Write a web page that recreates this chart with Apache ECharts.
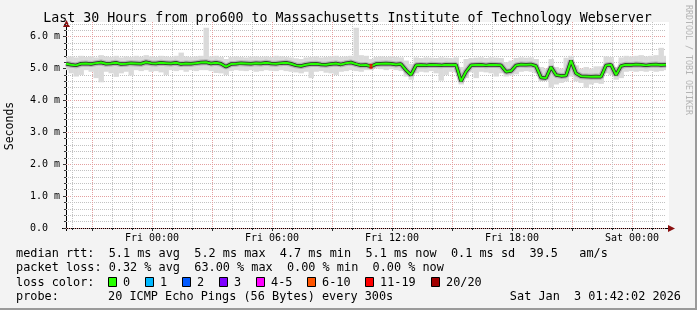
<!DOCTYPE html>
<html><head><meta charset="utf-8">
<script src="https://cdn.jsdelivr.net/npm/echarts@6/dist/echarts.min.js"></script>
<style>html,body{margin:0;padding:0;background:#f3f3f3}#c{width:697px;height:310px}</style>
</head><body><div id="c"></div><script>
// ---- data (15-minute samples, hours relative to Fri 00:00) ----
const startHour = -4.3;      // Thu 19:42
const stepHours = 0.25;
const endHour = 25.7;        // Sat 01:42
const median = [5.15,5.12,5.10,5.15,5.16,5.14,5.17,5.19,5.15,5.16,5.18,5.14,5.15,5.17,5.16,5.15,5.20,5.17,5.16,5.18,
5.17,5.16,5.18,5.14,5.16,5.15,5.17,5.19,5.20,5.16,5.18,5.15,5.06,5.14,5.15,5.17,5.16,5.15,5.17,5.16,
5.18,5.16,5.15,5.17,5.18,5.15,5.10,5.08,5.12,5.14,5.15,5.13,5.12,5.14,5.16,5.13,5.17,5.19,5.14,5.10,
5.11,5.07,5.14,5.15,5.16,5.15,5.13,5.14,4.95,4.80,5.10,5.11,5.10,5.12,5.11,5.10,5.12,5.11,5.12,4.60,
4.90,5.10,5.11,5.12,5.10,5.12,5.11,5.10,4.90,4.92,5.10,5.13,5.12,5.13,5.08,4.72,4.70,5.05,4.80,4.77,
4.78,5.25,4.85,4.76,4.75,4.74,4.75,4.74,5.10,5.12,4.80,5.08,5.12,5.11,5.13,5.12,5.10,5.12,5.13,5.11,5.12];
const smokeHi = [5.35,5.38,5.35,5.40,5.36,5.38,5.35,5.42,5.38,5.36,5.40,5.35,5.38,5.36,5.40,5.37,5.42,5.38,5.36,5.40,
5.38,5.36,5.40,5.50,5.38,5.36,5.38,5.40,6.28,5.38,5.40,5.36,5.30,5.36,5.38,5.36,5.35,5.37,5.38,5.36,
5.38,5.36,5.40,5.38,5.36,5.35,5.32,5.30,5.35,5.36,5.38,5.35,5.36,5.38,5.40,5.36,5.38,5.40,6.28,5.42,
5.40,5.30,5.36,5.38,5.36,5.38,5.36,5.35,5.25,5.15,5.35,5.33,5.35,5.34,5.33,5.35,5.34,5.33,5.35,5.05,
5.30,5.33,5.34,5.35,5.33,5.35,5.34,5.33,5.20,5.25,5.33,5.35,5.34,5.35,5.30,5.05,5.00,5.30,5.05,5.00,
5.34,5.40,5.10,5.00,5.05,5.00,5.07,5.07,5.38,5.36,5.05,5.35,5.40,5.38,5.40,5.42,5.38,5.40,5.42,5.65,5.40];
const smokeLo = [4.95,4.85,4.75,4.80,4.95,4.90,4.70,4.57,4.90,4.85,4.74,4.85,4.90,4.78,4.95,4.92,4.95,4.90,4.92,4.88,
4.80,4.95,4.92,4.95,4.90,4.95,4.92,4.95,4.95,4.92,4.86,4.85,4.80,4.92,4.95,4.93,4.92,4.95,4.90,4.92,
4.95,4.93,4.92,4.95,4.92,4.90,4.88,4.85,4.90,4.70,4.90,4.92,4.87,4.85,4.80,4.90,4.92,4.95,4.92,4.90,
4.95,4.95,5.00,4.98,4.95,4.98,4.95,4.92,4.75,4.65,4.85,4.90,4.88,4.92,4.85,4.62,4.80,4.90,4.88,4.50,
4.70,4.88,4.70,4.90,4.88,4.85,4.75,4.85,4.75,4.78,4.82,4.90,4.92,4.90,4.85,4.60,4.62,4.40,4.50,4.55,
4.60,4.75,4.60,4.55,4.40,4.50,4.55,4.52,4.85,4.80,4.65,4.70,4.90,4.92,4.90,4.92,4.90,4.93,4.90,4.92,4.95];
const lossEvents = [[61, 13]];   // [sample index, lost pings of 20]

// ---- axis ticks & labels ----
const xLabelHours = [0, 6, 12, 18, 24];
const xLabels = ['Fri 00:00', 'Fri 06:00', 'Fri 12:00', 'Fri 18:00', 'Sat 00:00'];
const xMajorHours = [-3, 0, 3, 6, 9, 12, 15, 18, 21, 24];
const xMinorHours = [-4,-2,-1,1,2,4,5,7,8,10,11,13,14,16,17,19,20,22,23,25];
const yLabelValues = [0, 1, 2, 3, 4, 5, 6];
const yLabels = ['0.0', '1.0 m', '2.0 m', '3.0 m', '4.0 m', '5.0 m', '6.0 m'];
const yMinor = [0.2,0.4,0.6,0.8,1.2,1.4,1.6,1.8,2.2,2.4,2.6,2.8,3.2,3.4,3.6,3.8,4.2,4.4,4.6,4.8,5.2,5.4,5.6,5.8,6.2,6.4];
const yMax = 6.46;

// ---- legend texts ----
const titleText = 'Last 30 Hours from pro600 to Massachusetts Institute of Technology Webserver';
const statRows = [
  'median rtt:  5.1 ms avg  5.2 ms max  4.7 ms min  5.1 ms now  0.1 ms sd  39.5   am/s',
  'packet loss: 0.32 % avg  63.00 % max  0.00 % min  0.00 % now'
];
const lossLegend = [['0','#26ff00'],['1','#00b8ff'],['2','#0059ff'],['3','#7e00ff'],['4-5','#ff00ff'],['6-10','#ff5500'],['11-19','#ff0000'],['20/20','#a10000']];
const lossLimits = [0, 1, 2, 3, 5, 10, 19, 20];
const probeText = '20 ICMP Echo Pings (56 Bytes) every 300s';
const stampText = 'Sat Jan  3 01:42:02 2026';

// ---- build ----
const MONO = '"DejaVu Sans Mono", monospace';
const hours = median.map((_, i) => +(startHour + i * stepHours).toFixed(4));
const medianPts = median.map((v, i) => [hours[i], v]);
const lossColor = n => { for (let k = 0; k < lossLimits.length; k++) if (n <= lossLimits[k]) return lossLegend[k][1]; return lossLegend[lossLegend.length-1][1]; };
const lossPts = lossEvents.map(e => ({ value: [hours[e[0]], median[e[0]]], itemStyle: { color: lossColor(e[1]) } }));

const txt = (text, x, y, size, extra) => Object.assign({
  type: 'text', x: x, y: y,
  style: Object.assign({ text: text, x: 0, y: 0, fill: '#000', font: size + 'px ' + MONO,
    align: 'left', verticalAlign: 'middle', textAlign: 'left', textVerticalAlign: 'middle' }, (extra && extra.style) || {})
}, extra ? { rotation: extra.rotation || 0 } : {});

const graphics = [
  { type: 'rect', shape: { x: 666, y: 22, width: 3, height: 206 }, style: { fill: '#fff' } },
  { type: 'rect', shape: { x: 695, y: 0, width: 2, height: 310 }, style: { fill: '#9a9a9a' } },
  { type: 'rect', shape: { x: 0, y: 308, width: 697, height: 2 }, style: { fill: '#9a9a9a' } },
  { type: 'line', shape: { x1: 62, y1: 228.5, x2: 669, y2: 228.5 }, style: { stroke: '#000', lineWidth: 1 } },
  { type: 'line', shape: { x1: 66.5, y1: 231, x2: 66.5, y2: 25 }, style: { stroke: '#000', lineWidth: 1 } },
  { type: 'polygon', shape: { points: [[63, 27], [70, 27], [66.5, 20]] }, style: { fill: '#8a1010' } },
  { type: 'polygon', shape: { points: [[668, 225], [668, 232], [675, 228.5]] }, style: { fill: '#8a1010' } },
  txt(titleText, 347.5, 19, 13.3, { style: { align: 'center', textAlign: 'center' } }),
  txt('Seconds', 10, 126, 11.5, { rotation: Math.PI / 2, style: { align: 'center', textAlign: 'center' } }),
  txt('RRDTOOL / TOBI OETIKER', 688, 5, 8.3, { rotation: -Math.PI / 2, style: { fill: '#b4b4b4' } }),
  txt(statRows[0], 16, 253.5, 11.85),
  txt(statRows[1], 16, 268, 11.85),
  txt('loss color:', 16, 282.5, 11.85),
  txt('probe:', 16, 297, 11.85),
  txt(probeText, 108, 297, 11.85),
  txt(stampText, 681, 297, 11.85, { style: { align: 'right', textAlign: 'right' } })
];
const boxX = [108.5, 145.5, 182.5, 219.5, 256.5, 307.5, 365.5, 431.5];
const labX = [123, 160, 197, 234, 271, 322, 380, 446];
lossLegend.forEach((l, k) => {
  graphics.push({ type: 'rect', shape: { x: boxX[k], y: 277.5, width: 8, height: 9 }, style: { fill: l[1], stroke: '#000', lineWidth: 1 } });
  graphics.push(txt(l[0], labX[k], 282.5, 11.85));
});

const axisCommon = { type: 'value', axisLine: { show: false, onZero: false } };
const chart = echarts.init(document.getElementById('c'));
chart.setOption({
  animation: false,
  backgroundColor: '#f3f3f3',
  grid: { left: 66, top: 22, width: 600, height: 206, show: true, backgroundColor: '#fff', borderWidth: 0, containLabel: false },
  xAxis: [
    Object.assign({}, axisCommon, { min: startHour, max: endHour, position: 'bottom', z: 0,
      axisTick: { show: true, customValues: xMinorHours, length: 2, lineStyle: { color: '#333' } },
      axisLabel: { show: false },
      splitLine: { show: true, lineStyle: { color: '#c2c2c2', width: 1, type: [1, 1] } } }),
    Object.assign({}, axisCommon, { min: startHour, max: endHour, position: 'bottom', z: 0,
      axisTick: { show: true, customValues: xMajorHours, length: 3, lineStyle: { color: '#333' } },
      axisLabel: { show: true, customValues: xLabelHours, margin: 5, fontFamily: MONO, fontSize: 10, color: '#000',
        formatter: v => { const k = xLabelHours.findIndex(h => Math.abs(h - v) < 1e-6); return k >= 0 ? xLabels[k] : ''; } },
      splitLine: { show: true, lineStyle: { color: '#e3a0a0', width: 1, type: [1, 1] } } })
  ],
  yAxis: [
    Object.assign({}, axisCommon, { min: 0, max: yMax, position: 'left', z: 0,
      axisTick: { show: true, customValues: yMinor, length: 2, lineStyle: { color: '#333' } },
      axisLabel: { show: false },
      splitLine: { show: true, lineStyle: { color: '#c2c2c2', width: 1, type: [1, 1] } } }),
    Object.assign({}, axisCommon, { min: 0, max: yMax, position: 'left', z: 0,
      axisTick: { show: true, customValues: yLabelValues, length: 3, lineStyle: { color: '#333' } },
      axisLabel: { show: true, customValues: yLabelValues, align: 'left', margin: 36, fontFamily: MONO, fontSize: 10, color: '#000',
        formatter: v => { const k = yLabelValues.findIndex(h => Math.abs(h - v) < 1e-6); return k >= 0 ? yLabels[k] : ''; } },
      splitLine: { show: true, lineStyle: { color: '#e3a0a0', width: 1, type: [1, 1] } } })
  ],
  series: [
    { type: 'custom', silent: true, clip: true, z: 1,
      data: hours.map((h, i) => [h, smokeHi[i], smokeLo[i]]),
      encode: { x: 0, y: [1, 2] },
      renderItem: (params, api) => {
        const h = api.value(0);
        const p1 = api.coord([h - stepHours / 2, api.value(1)]);
        const p2 = api.coord([h + stepHours / 2, api.value(2)]);
        return { type: 'rect', shape: { x: p1[0], y: p1[1], width: p2[0] - p1[0] + 0.4, height: p2[1] - p1[1] },
                 style: { fill: '#dadada' } };
      } },
    { type: 'line', symbol: 'none', silent: true, z: 2,
      lineStyle: { width: 6, color: 'rgba(90,90,90,0.3)' }, data: medianPts },
    { type: 'line', symbol: 'none', silent: true, z: 3,
      lineStyle: { width: 3.5, color: '#2a2a2a' }, data: medianPts },
    { type: 'line', symbol: 'none', silent: true, z: 4,
      lineStyle: { width: 2, color: '#26ff00' }, data: medianPts },
    { type: 'scatter', symbol: 'rect', symbolSize: [3, 5], silent: true, z: 5, data: lossPts }
  ],
  graphic: graphics
});
</script></body></html>
